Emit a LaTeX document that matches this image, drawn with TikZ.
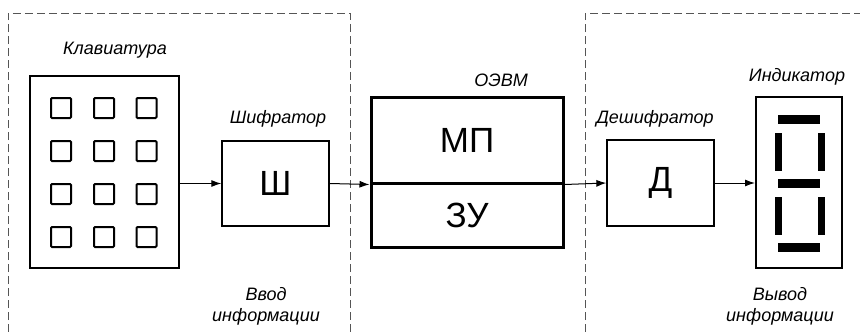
\documentclass[tikz,border=0pt]{standalone}
\usepackage{fontspec}
\setmainfont{Liberation Sans}
\usepackage{tikz}
\usetikzlibrary{positioning,arrows.meta}
\definecolor{ink}    {HTML}{000000}
\definecolor{frame}  {HTML}{555555}
\tikzset{
  >={Latex[length=10pt,width=7pt]},
  % --- nodes
  blk/.style   = {draw=ink, fill=white, inner sep=0pt, line width=1.3pt,
                  font=\fontsize{35}{37}\selectfont},
  thk/.style   = {blk, line width=3pt},
  keycap/.style= {draw=ink, line width=2pt, rounded corners=1pt,
                  minimum size=20pt, inner sep=0pt},
  seg/.style   = {fill=ink, inner sep=0pt},
  lbl/.style   = {font=\fontsize{18}{21}\selectfont\itshape,
                  align=center},
  % --- edges
  e/.style     = {->, line width=1pt, draw=ink},
  dashbox/.style = {draw=frame, line width=0.9pt, dash pattern=on 8pt off 4pt},
}
\begin{document}
\begin{tikzpicture}[x=1pt,y=-1pt]
  \useasboundingbox (0,0) rectangle (860,332);

  % frames
  \draw[dashbox] (8,332) -- (8,13) -- (350,13) -- (350,332);
  \draw[dashbox] (585,332) -- (585,13) -- (860,13);

  % keyboard
  \node[blk, line width=2pt, minimum width=149pt, minimum height=192pt] (kbd) at (104.5,172) {};
  \foreach \c/\x in {1/61,2/104,3/146.5}
    \foreach \r/\y in {1/108,2/151,3/194,4/237}
      \node[keycap] (k\r\c) at (\x,\y) {};

  \node[blk, minimum width=107pt, minimum height=85pt] (shf) at (275.5,183.5) {Ш};
  \node[thk, minimum width=192pt, minimum height=86pt] (mp) at (467,140) {МП};
  \node[thk, minimum width=192pt, minimum height=64pt] (zu) at (467,215) {ЗУ};
  \node[blk, minimum width=107pt, minimum height=86pt] (dsh) at (660.5,183) {Д};
  \node[blk, line width=2pt, minimum width=86pt, minimum height=171pt] (ind) at (799,182.5) {};

  % seven segments
  \node[seg, minimum width=42pt, minimum height=9pt] (sa) at (799,119) {};
  \node[seg, minimum width=42pt, minimum height=9pt] (sg) at (799,183) {};
  \node[seg, minimum width=42pt, minimum height=9pt] (sd) at (799,247) {};
  \node[seg, minimum width=7pt, minimum height=38pt] (sf) at (778.5,151.5) {};
  \node[seg, minimum width=7pt, minimum height=38pt] (sb) at (821,151.5) {};
  \node[seg, minimum width=7pt, minimum height=38pt] (se) at (778.5,215.5) {};
  \node[seg, minimum width=7pt, minimum height=38pt] (sc) at (821,215.5) {};

  % labels
  \node[lbl] (lkbd) at (115,50) {Клавиатура};
  \node[lbl] (lshf) at (278,119) {Шифратор};
  \node[lbl] (lcpu) at (501,80) {ОЭВМ};
  \node[lbl] (ldsh) at (655,119) {Дешифратор};
  \node[lbl] (lind) at (797,77) {Индикатор};
  \node[lbl] (lin)  at (266,306) {Ввод\\информации};
  \node[lbl] (lout) at (780,306) {Вывод\\информации};

  \draw[e] (kbd.east |- shf) -- (shf.west);
  \draw[e] (shf.east) -- (mp.south west);
  \draw[e] (mp.south east) -- (dsh.west);
  \draw[e] (dsh.east) -- (ind.west |- dsh);
\end{tikzpicture}
\end{document}
